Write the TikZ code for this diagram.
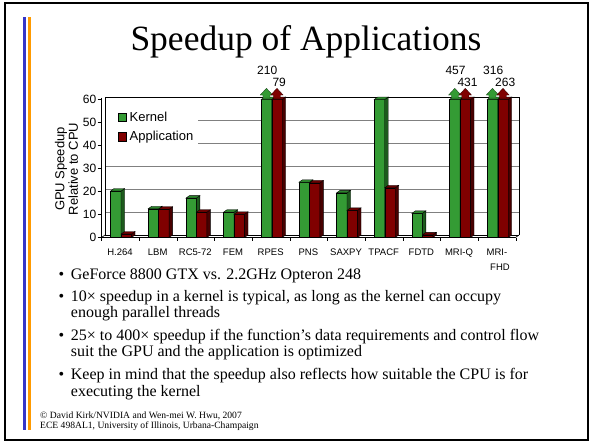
\documentclass[tikz,border=0pt]{standalone}
\usepackage{fontspec}
\setmainfont{Liberation Serif}
\newfontfamily\arial{Liberation Sans}
\usetikzlibrary{calc}

\definecolor{kgreen}{HTML}{349B34}
\definecolor{kgreenside}{HTML}{1D5A1D}
\definecolor{kgreentop}{HTML}{2C842C}
\definecolor{ared}{HTML}{800000}
\definecolor{aredside}{HTML}{480000}
\definecolor{aredtop}{HTML}{680000}
\definecolor{barblue}{HTML}{3535C8}
\definecolor{barorange}{HTML}{FF9A00}
\definecolor{gridgray}{HTML}{808080}

% one 3-D bar: left edge, top of front face, front / side / top colours
\newcommand\cubebar[5]{%
  \fill[#3,draw=black,line width=0.35pt] (#1,237.5) rectangle ({#1+10.5},#2);
  \fill[#4,draw=black,line width=0.35pt] ({#1+10.5},237.5) -- ({#1+14},235) -- ({#1+14},{#2-2.5}) -- ({#1+10.5},#2) -- cycle;
  \fill[#5,draw=black,line width=0.35pt] (#1,#2) -- ({#1+3.5},{#2-2.5}) -- ({#1+14},{#2-2.5}) -- ({#1+10.5},#2) -- cycle;
}
% an "off the scale" marker above a bar, centred on x
\newcommand\upmark[2]{%
  \fill[#2,draw=black!60!#2,line width=0.3pt] ({#1-3.5},98) -- ({#1-3.5},95) -- ({#1-6.2},95) -- (#1,88.3) -- ({#1+6.2},95) -- ({#1+3.5},95) -- ({#1+3.5},98) -- cycle;
}

\tikzset{
  ticklab/.style={font=\arial\fontsize{12}{12}\selectfont, inner sep=0pt},
  catlab/.style={font=\arial\fontsize{9.5}{9.5}\selectfont, inner sep=0pt, anchor=base},
  leglab/.style={font=\arial\fontsize{13}{13}\selectfont, inner sep=0pt, anchor=west},
  numlab/.style={font=\arial\fontsize{12}{12}\selectfont, inner sep=0pt, anchor=base},
  bodytext/.style={font=\fontsize{16}{16}\selectfont, inner sep=0pt, anchor=base west},
  dot/.style={font=\fontsize{16}{16}\selectfont, inner sep=0pt, anchor=base},
  foot/.style={font=\fontsize{9.6}{9.6}\selectfont, inner sep=0pt, anchor=base west},
  grid line/.style={gridgray, line width=0.8pt},
  frame line/.style={black, line width=0.6pt}
}

\begin{document}
\begin{tikzpicture}[x=1pt,y=-1pt]
  % page
  \fill[white] (0,0) rectangle (593,444);
  \useasboundingbox (0,0) rectangle (593,444);
  \draw[black,line width=1.6pt] (5,3) rectangle (588,440);

  % side accent stripes
  \fill[barblue] (23.3,17) rectangle (26.2,430);
  \fill[barorange] (28.3,17) rectangle (31.2,430);

  % title
  \node[font=\fontsize{35.5}{35.5}\selectfont, inner sep=0pt, anchor=base] (title) at (306,51) {Speedup of Applications};

  % ---------- chart ----------
  % back wall gridlines
  \foreach \v in {10,20,30,40,50} {
    \draw[grid line] (105,{235-2.3*\v}) -- (519,{235-2.3*\v});
  }
  % wall and floor outline
  \draw[frame line] (105,97) -- (519,97) -- (519,235);
  \draw[frame line] (105,97) -- (105,235) -- (519,235);
  \draw[frame line] (101.5,237.5) -- (515.5,237.5) -- (519,235);
  \draw[frame line] (101.5,237.5) -- (105,235);
  % category ticks
  \foreach \i in {0,...,11} {
    \draw[frame line] ({101.5+37.67*\i},237.5) -- ({101.5+37.67*\i},240.5);
  }

  % legend
  \fill[white] (106,102) rectangle (198,153);
  \fill[kgreen,draw=black,line width=0.35pt] (118,113) rectangle (126.5,121.5);
  \fill[ared,draw=black,line width=0.35pt] (118,132.5) rectangle (126.5,141);
  \node[leglab] (legk) at (129.5,117.3) {Kernel};
  \node[leglab] (lega) at (129.5,136.8) {Application};

  % bars: index / kernel speedup / application speedup
  \foreach \i/\k/\a in {0/20.2/1.5, 1/12.5/12.3, 2/17.1/11.0, 3/11.0/10.1, 4/210/79.4,
                        5/24.0/23.7, 6/19.4/11.8, 7/60.0/21.6, 8/10.5/1.16, 9/457/431, 10/316/263} {
    \pgfmathsetmacro\c{120+37.67*\i}
    \pgfmathsetmacro\kt{237.5-2.3*min(\k,60)}
    \pgfmathsetmacro\at{237.5-2.3*min(\a,60)}
    \cubebar{\c-9.5}{\kt}{kgreen}{kgreenside}{kgreentop}
    \cubebar{\c+1}{\at}{ared}{aredside}{aredtop}
  }

  % off-scale markers and their values
  \foreach \i/\ku/\au in {4/210/79, 9/457/431, 10/316/263} {
    \pgfmathsetmacro\c{120+37.67*\i}
    \upmark{\c-4.25}{kgreen}
    \upmark{\c+6.25}{ared}
    \node[numlab] (up\i) at ({\c-3.5},74.5) {\ku};
    \node[numlab] (lo\i) at ({\c+8.5},86) {\au};
  }

  % front axis with ticks and labels
  \draw[frame line] (101.5,97.5) -- (101.5,240);
  \foreach \v in {0,10,...,60} {
    \draw[frame line] (97.5,{237.5-2.3*\v}) -- (101.5,{237.5-2.3*\v});
    \node[ticklab, anchor=east] (y\v) at (96.5,{237.5-2.3*\v}) {\v};
  }

  % axis title
  \node[font=\arial\fontsize{13}{13.4}\selectfont, align=center, rotate=90, inner sep=0pt] (ytitle) at (66.5,169) {GPU Speedup\\Relative to CPU};

  % category names
  \foreach \i/\n in {0/H.264, 1/LBM, 2/RC5-72, 3/FEM, 4/RPES, 5/PNS, 6/SAXPY, 7/TPACF, 8/FDTD, 9/MRI-Q} {
    \node[catlab] (cat\i) at ({120+37.67*\i},255) {\n};
  }
  \node[catlab] (cat10a) at (497,255) {MRI-};
  \node[catlab] (cat10b) at (500,270) {FHD};

  % ---------- bullet text ----------
  \foreach \y in {279.3,301.7,340,379.3} {
    \node[dot] at (61.5,\y) {\textbullet};
  }
  \node[bodytext] (b1) at (70.7,279.3) {GeForce 8800 GTX vs. 2.2GHz Opteron 248};
  \node[bodytext] (b2) at (70.7,301.7) {10× speedup in a kernel is typical, as long as the kernel can occupy};
  \node[bodytext] (b2b) at (70.7,317.3) {enough parallel threads};
  \node[bodytext] (b3) at (70.7,340) {25× to 400× speedup if the function’s data requirements and control flow};
  \node[bodytext] (b3b) at (70.7,356.7) {suit the GPU and the application is optimized};
  \node[bodytext] (b4) at (70.7,379.3) {Keep in mind that the speedup also reflects how suitable the CPU is for};
  \node[bodytext] (b4b) at (70.7,396) {executing the kernel};

  % footer
  \node[foot] (f1) at (40,418.3) {© David Kirk/NVIDIA and Wen-mei W. Hwu, 2007};
  \node[foot] (f2) at (40,428.3) {ECE 498AL1, University of Illinois, Urbana-Champaign};
\end{tikzpicture}
\end{document}
